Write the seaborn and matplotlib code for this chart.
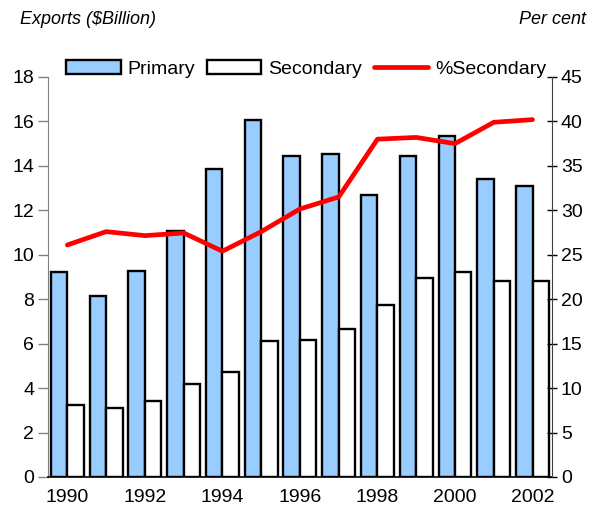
import numpy as np
import pandas as pd
import matplotlib
matplotlib.use("Agg")
import matplotlib.pyplot as plt
from matplotlib.ticker import FixedLocator, MultipleLocator
from matplotlib.patches import Patch
from matplotlib.lines import Line2D
import seaborn as sns

# values
years = [1990, 1991, 1992, 1993, 1994, 1995, 1996, 1997, 1998, 1999, 2000, 2001, 2002]
primary = [9.24, 8.16, 9.29, 11.06, 13.88, 16.05, 14.46, 14.55, 12.69, 14.46, 15.36, 13.40, 13.11]
secondary = [3.23, 3.10, 3.44, 4.17, 4.71, 6.11, 6.17, 6.68, 7.73, 8.94, 9.21, 8.82, 8.83]
pct_secondary = [26.1, 27.6, 27.15, 27.45, 25.4, 27.6, 30.15, 31.5, 38.0, 38.2, 37.5, 39.9, 40.2]

sns.set_style("white")
plt.rcParams["font.family"] = ["Liberation Sans", "DejaVu Sans"]
plt.rcParams["text.color"] = "black"
plt.rcParams["xtick.color"] = "black"
plt.rcParams["ytick.color"] = "black"

df = pd.DataFrame({
    "Year": [str(y) for y in years] * 2,
    "Kind": ["Primary"] * len(years) + ["Secondary"] * len(years),
    "Value": primary + secondary,
})

fig = plt.figure(figsize=(5.89, 5.20), dpi=100)
ax = fig.add_axes([0.0815, 0.0827, 0.8555, 0.7693])

colors = {"Primary": "#99CCFF", "Secondary": "#FFFFFF"}
sns.barplot(data=df, x="Year", y="Value", hue="Kind", palette=colors,
            width=0.85, edgecolor="black", linewidth=1.7, saturation=1,
            legend=False, ax=ax)

ax.set_xlim(-0.5, len(years) - 0.5)
ax.set_ylim(0, 18)
ax.yaxis.set_major_locator(MultipleLocator(2))
ax.set_xlabel("")
ax.set_ylabel("")

# labels every other year at group centres, tick marks at group boundaries
ax.set_xticks(range(0, len(years), 2))
ax.set_xticklabels([str(y) for y in years[::2]])
ax.xaxis.set_minor_locator(FixedLocator(np.arange(-0.5, len(years), 1)))
ax.tick_params(axis="x", which="major", length=0, labelsize=14, pad=9, labelcolor="black")
ax.tick_params(axis="x", which="minor", length=7, direction="inout", color="#808080", width=1)
ax.tick_params(axis="y", length=7, direction="out", color="#808080", width=1,
               labelsize=14, pad=3, left=True, labelcolor="black")

for s in ["top", "right"]:
    ax.spines[s].set_visible(False)
ax.spines["left"].set_color("#808080")
ax.spines["bottom"].set_color("black")
ax.spines["bottom"].set_linewidth(1.2)

ax2 = ax.twinx()
sns.lineplot(x=np.arange(len(years)), y=pct_secondary, color="#FF0000",
             linewidth=3.4, ax=ax2)
ax2.set_ylim(0, 45)
ax2.yaxis.set_major_locator(MultipleLocator(5))
ax2.tick_params(axis="y", length=7, direction="inout", color="black", width=1,
                labelsize=14, pad=3, right=True, labelcolor="black")
for s in ["top", "left", "bottom"]:
    ax2.spines[s].set_visible(False)
ax2.spines["right"].set_color("#404040")
ax2.set_xlim(-0.5, len(years) - 0.5)

handles = [
    Patch(facecolor="#99CCFF", edgecolor="black", linewidth=1.7),
    Patch(facecolor="white", edgecolor="black", linewidth=1.7),
    Line2D([], [], color="#FF0000", linewidth=3.4),
]
fig.legend(handles, ["Primary", "Secondary", "%Secondary"], loc="center",
           bbox_to_anchor=(0.52, 0.868), ncol=3, frameon=False, fontsize=14,
           handlelength=2.8, handleheight=0.75, handletextpad=0.35, columnspacing=0.6)

fig.text(0.034, 0.962, "Exports ($Billion)", fontsize=13, style="italic", va="center", ha="left")
fig.text(0.995, 0.962, "Per cent", fontsize=13, style="italic", va="center", ha="right")

fig.savefig("out.png", dpi=100)
